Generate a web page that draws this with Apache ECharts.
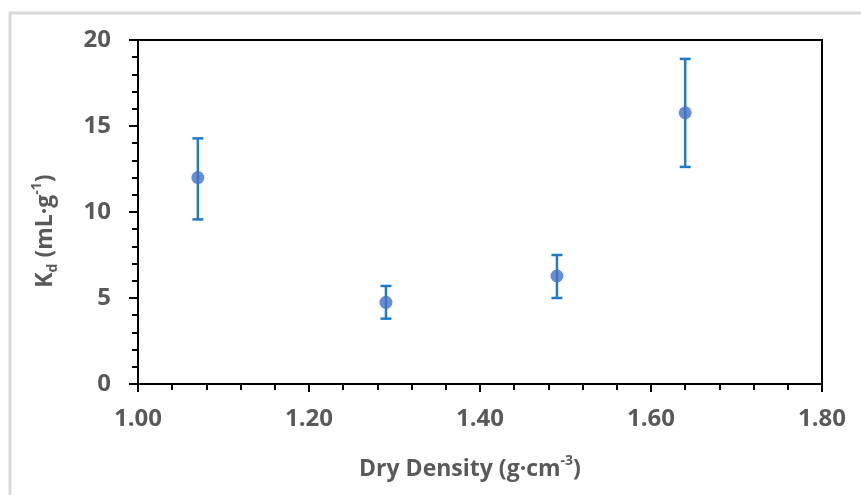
<!DOCTYPE html>
<html>
<head>
<meta charset="utf-8">
<script src="https://cdn.jsdelivr.net/npm/echarts@6/dist/echarts.min.js"></script>
<style>
  html, body { margin: 0; padding: 0; background: #fff; }
  #chart { width: 861px; height: 495px; }
</style>
</head>
<body>
<div id="chart"></div>
<script>
// Dry density (g·cm-3) vs distribution coefficient Kd (mL·g-1)
const density = [1.07, 1.29, 1.49, 1.64];
const kd      = [12.0, 4.75, 6.28, 15.77];
const kdLow   = [9.57, 3.80, 5.00, 12.62];
const kdHigh  = [14.28, 5.70, 7.50, 18.90];

const xTicks = ['1.00', '1.20', '1.40', '1.60', '1.80'];
const yTicks = ['0', '5', '10', '15', '20'];

const FONT = '"Open Sans", "Noto Sans", sans-serif';
const TEXT_GRAY = '#595959';

const chart = echarts.init(document.getElementById('chart'), null, { renderer: 'canvas' });

const points = density.map((d, i) => [d, kd[i]]);
const bars = density.map((d, i) => [d, kdLow[i], kdHigh[i]]);

// rich text pieces for axis titles
const titleRich = {
  t:   { fontFamily: FONT, fontWeight: 'bold', fontSize: 23, color: TEXT_GRAY, lineHeight: 30 },
  sup: { fontFamily: FONT, fontWeight: 'bold', fontSize: 14, color: TEXT_GRAY, verticalAlign: 'top', lineHeight: 30, padding: [0, 0, 4, 0] },
  sub: { fontFamily: FONT, fontWeight: 'bold', fontSize: 14, color: TEXT_GRAY, verticalAlign: 'bottom', lineHeight: 30, padding: [5, 0, 0, 0] }
};

chart.setOption({
  animation: false,
  backgroundColor: '#ffffff',
  graphic: [{
    type: 'rect',
    shape: { x: 10, y: 13, width: 900, height: 600 },
    style: { fill: 'none', stroke: '#d9d9d9', lineWidth: 3 },
    z: -1
  }],
  grid: {
    left: 138, right: 39, top: 40, bottom: 111,
    show: true, borderColor: '#000', borderWidth: 2, backgroundColor: 'transparent'
  },
  xAxis: {
    type: 'value',
    min: 1.0, max: 1.8, interval: 0.2,
    name: '{t|Dry Density (g·cm}{sup|-3}{t|)}',
    nameLocation: 'middle',
    nameGap: 70,
    nameTextStyle: { rich: titleRich, padding: [0, 20, 0, 0] },
    axisLine: { show: true, onZero: false, lineStyle: { color: '#000', width: 2 } },
    axisTick: { show: true, inside: false, length: 8, lineStyle: { color: '#000', width: 2 } },
    minorTick: { show: true, splitNumber: 5, length: 6, lineStyle: { color: '#000', width: 2 } },
    splitLine: { show: false },
    axisLabel: {
      margin: 23,
      fontFamily: FONT, fontWeight: 'bold', fontSize: 24, color: TEXT_GRAY,
      formatter: (v) => xTicks[Math.round((v - 1.0) / 0.2)] ?? ''
    }
  },
  yAxis: {
    type: 'value',
    min: 0, max: 20, interval: 5,
    name: '{t|K}{sub|d}{t| (mL·g}{sup|-1}{t|)}',
    nameLocation: 'middle',
    nameRotate: 90,
    nameGap: 78,
    nameTextStyle: { rich: titleRich, padding: [0, 38, 0, 0] },
    axisLine: { show: true, onZero: false, lineStyle: { color: '#000', width: 2 } },
    axisTick: { show: true, inside: false, length: 9, lineStyle: { color: '#000', width: 2 } },
    minorTick: { show: true, splitNumber: 5, length: 6, lineStyle: { color: '#000', width: 2 } },
    splitLine: { show: false },
    axisLabel: {
      margin: 27,
      fontFamily: FONT, fontWeight: 'bold', fontSize: 24, color: TEXT_GRAY,
      formatter: (v) => yTicks[Math.round(v / 5)] ?? ''
    }
  },
  series: [
    {
      type: 'custom',
      name: 'error',
      data: bars,
      z: 2,
      renderItem: (params, api) => {
        const x = api.value(0);
        const lo = api.coord([x, api.value(1)]);
        const hi = api.coord([x, api.value(2)]);
        const cap = 5.5;
        const style = { stroke: '#1f7ac6', lineWidth: 2.5 };
        return {
          type: 'group',
          children: [
            { type: 'line', shape: { x1: lo[0], y1: lo[1], x2: hi[0], y2: hi[1] }, style },
            { type: 'line', shape: { x1: lo[0] - cap, y1: lo[1], x2: lo[0] + cap, y2: lo[1] }, style },
            { type: 'line', shape: { x1: hi[0] - cap, y1: hi[1], x2: hi[0] + cap, y2: hi[1] }, style }
          ]
        };
      }
    },
    {
      type: 'scatter',
      name: 'Kd',
      data: points,
      symbol: 'circle',
      symbolSize: 13,
      itemStyle: { color: '#4472c4' },
      z: 3
    }
  ]
});
</script>
</body>
</html>
